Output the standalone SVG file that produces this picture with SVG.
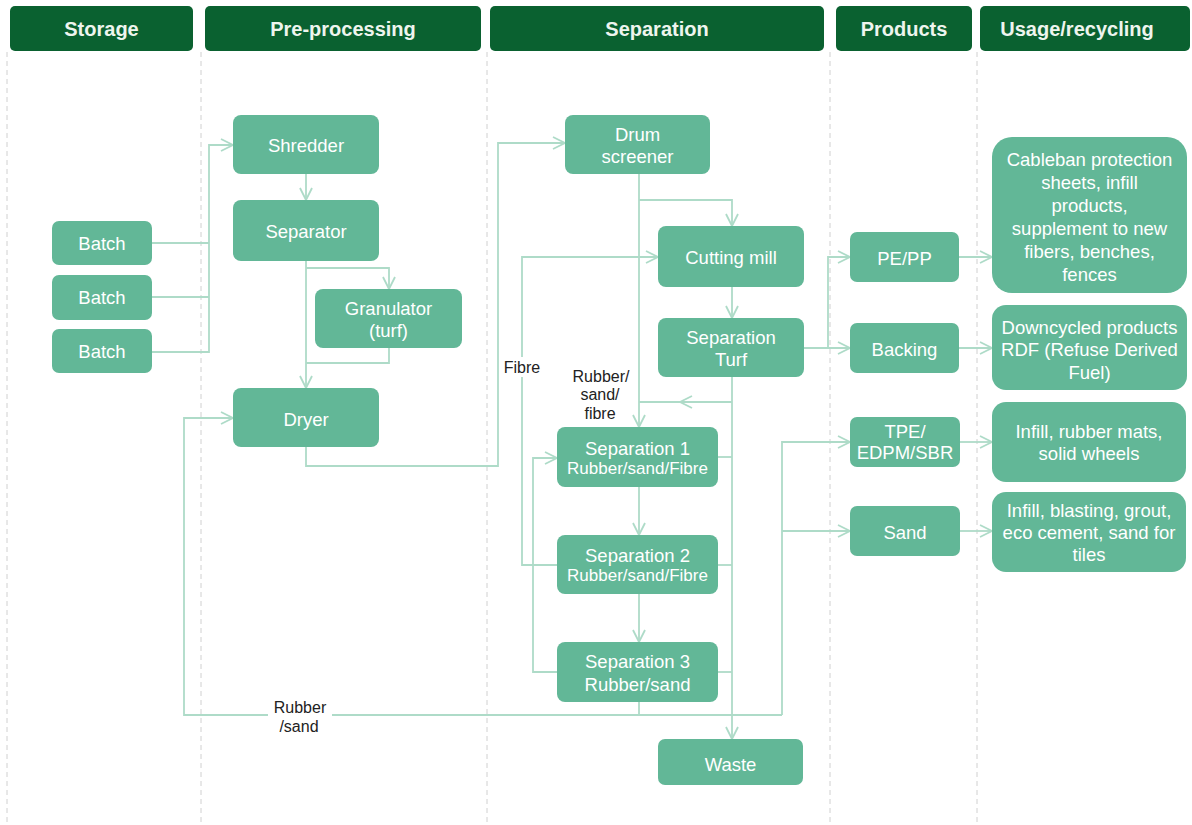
<svg xmlns="http://www.w3.org/2000/svg" width="1192" height="825" viewBox="0 0 1192 825">
<style>
.hdr{fill:#0a6130}
.ht{fill:#eef5ee;font-family:"Liberation Sans",Arial,sans-serif;font-weight:bold;font-size:20px;text-anchor:middle;dominant-baseline:central}
.n{fill:#62b797}
.t{fill:#ffffff;font-family:"Liberation Sans",Arial,sans-serif;font-size:18.5px;text-anchor:middle;dominant-baseline:central}
.ts{font-size:17px}
.lbl{fill:#222;font-family:"Liberation Sans",Arial,sans-serif;font-size:16px;text-anchor:middle;dominant-baseline:central}
.div{stroke:#d0d0d0;stroke-width:1;stroke-dasharray:5 4;fill:none}
.c{stroke:#aedbc8;stroke-width:1.8;fill:none}
.a{marker-end:url(#arr)}
</style>
<defs>
<marker id="arr" viewBox="0 0 14 14" refX="13" refY="7" markerWidth="14" markerHeight="14" markerUnits="userSpaceOnUse" orient="auto">
<path d="M1,1 L13,7 L1,13" fill="none" stroke="#aedbc8" stroke-width="1.8"/>
</marker>
</defs>
<rect width="1192" height="825" fill="#ffffff"/>
<g id="dividers">
<line class="div" x1="7" y1="52" x2="7" y2="825"/>
<line class="div" x1="201" y1="52" x2="201" y2="825"/>
<line class="div" x1="487" y1="52" x2="487" y2="825"/>
<line class="div" x1="830" y1="52" x2="830" y2="825"/>
<line class="div" x1="977" y1="52" x2="977" y2="825"/>
</g>
<g id="headers">
<rect class="hdr" x="10" y="6" width="183" height="45" rx="5"/>
<text class="ht" x="101.5" y="29">Storage</text>
<rect class="hdr" x="205" y="6" width="276" height="45" rx="5"/>
<text class="ht" x="343" y="29">Pre-processing</text>
<rect class="hdr" x="490" y="6" width="334" height="45" rx="5"/>
<text class="ht" x="657" y="29">Separation</text>
<rect class="hdr" x="836" y="6" width="136" height="45" rx="5"/>
<text class="ht" x="904" y="29">Products</text>
<rect class="hdr" x="980" y="6" width="210" height="45" rx="5"/>
<text class="ht" x="1077" y="29">Usage/recycling</text>
</g>
<g id="connectors">
<polyline class="c" points="152,243 209,243"/>
<polyline class="c" points="152,297 209,297"/>
<polyline class="c a" points="152,352 209,352 209,145 233,145"/>
<polyline class="c a" points="306,174 306,200"/>
<polyline class="c a" points="306,261 306,388"/>
<polyline class="c a" points="306,268 389,268 389,289"/>
<polyline class="c" points="389,348 389,363 306,363"/>
<polyline class="c a" points="306,447 306,466 498,466 498,143 565,143"/>
<polyline class="c a" points="639,174 639,427"/>
<polyline class="c a" points="639,200 732,200 732,226"/>
<polyline class="c a" points="732,287 732,318"/>
<polyline class="c a" points="732,377 732,739"/>
<polyline class="c a" points="732,402 680,402"/>
<polyline class="c" points="680,402 639,402"/>
<polyline class="c" points="718,457 732,457"/>
<polyline class="c" points="718,565 732,565"/>
<polyline class="c" points="718,672 732,672"/>
<polyline class="c a" points="639,487 639,535"/>
<polyline class="c a" points="639,594 639,642"/>
<polyline class="c a" points="557,565 522,565 522,257 658,257"/>
<polyline class="c a" points="557,672 533,672 533,458 557,458"/>
<polyline class="c" points="639,702 639,715"/>
<polyline class="c a" points="782,715 184,715 184,418 233,418"/>
<polyline class="c a" points="782,715 782,442 850,442"/>
<polyline class="c a" points="782,531 850,531"/>
<polyline class="c a" points="804,348 850,348"/>
<polyline class="c a" points="828,348 828,257 850,257"/>
<polyline class="c a" points="959,257 992,257"/>
<polyline class="c a" points="959,348 992,348"/>
<polyline class="c a" points="960,442 992,442"/>
<polyline class="c a" points="960,531 992,531"/>
<rect x="268" y="697" width="64" height="38" fill="#ffffff"/>
<text class="lbl" x="300" y="707">Rubber</text>
<text class="lbl" x="299" y="726">/sand</text>
<rect x="503" y="357" width="38" height="20" fill="#ffffff"/>
<text class="lbl" x="522" y="367">Fibre</text>
<text class="lbl" x="601" y="376">Rubber/</text>
<text class="lbl" x="600" y="394">sand/</text>
<text class="lbl" x="600" y="413">fibre</text>
</g>
<g id="batch1"><rect class="n" x="52" y="221" width="100" height="44" rx="7"/><text class="t" x="102" y="243">Batch</text></g>
<g id="batch2"><rect class="n" x="52" y="275" width="100" height="45" rx="7"/><text class="t" x="102" y="297.5">Batch</text></g>
<g id="batch3"><rect class="n" x="52" y="329" width="100" height="44" rx="7"/><text class="t" x="102" y="351">Batch</text></g>
<g id="shredder"><rect class="n" x="233" y="115" width="146" height="59" rx="8"/><text class="t" x="306" y="145">Shredder</text></g>
<g id="separator"><rect class="n" x="233" y="200" width="146" height="61" rx="8"/><text class="t" x="306" y="231">Separator</text></g>
<g id="granulator"><rect class="n" x="315" y="289" width="147" height="59" rx="8"/><text class="t" x="388.5" y="308">Granulator</text><text class="t" x="388.5" y="330">(turf)</text></g>
<g id="dryer"><rect class="n" x="233" y="388" width="146" height="59" rx="8"/><text class="t" x="306" y="419">Dryer</text></g>
<g id="drum"><rect class="n" x="565" y="115" width="145" height="59" rx="8"/><text class="t" x="637.5" y="134">Drum</text><text class="t" x="637.5" y="156">screener</text></g>
<g id="cutting"><rect class="n" x="658" y="226" width="146" height="61" rx="8"/><text class="t" x="731" y="257">Cutting mill</text></g>
<g id="septurf"><rect class="n" x="658" y="318" width="146" height="59" rx="8"/><text class="t" x="731" y="337">Separation</text><text class="t" x="731" y="359">Turf</text></g>
<g id="sep1"><rect class="n" x="557" y="427" width="161" height="60" rx="8"/><text class="t" x="637.5" y="448">Separation 1</text><text class="t ts" x="637.5" y="468">Rubber/sand/Fibre</text></g>
<g id="sep2"><rect class="n" x="557" y="535" width="161" height="59" rx="8"/><text class="t" x="637.5" y="555">Separation 2</text><text class="t ts" x="637.5" y="575">Rubber/sand/Fibre</text></g>
<g id="sep3"><rect class="n" x="557" y="642" width="161" height="60" rx="8"/><text class="t" x="637.5" y="661">Separation 3</text><text class="t" x="637.5" y="684">Rubber/sand</text></g>
<g id="waste"><rect class="n" x="658" y="739" width="145" height="46" rx="7"/><text class="t" x="730.5" y="764">Waste</text></g>
<g id="pepp"><rect class="n" x="850" y="232" width="109" height="50" rx="7"/><text class="t" x="904.5" y="258">PE/PP</text></g>
<g id="backing"><rect class="n" x="850" y="323" width="109" height="50" rx="7"/><text class="t" x="904.5" y="349">Backing</text></g>
<g id="tpe"><rect class="n" x="850" y="417" width="110" height="50" rx="7"/><text class="t" x="905" y="431">TPE/</text><text class="t" x="905" y="452">EDPM/SBR</text></g>
<g id="sand"><rect class="n" x="850" y="506" width="110" height="50" rx="7"/><text class="t" x="905" y="532">Sand</text></g>
<g id="use1"><rect class="n" x="992" y="137" width="195" height="156" rx="20"/>
<text class="t" x="1089.5" y="159">Cableban protection</text><text class="t" x="1089.5" y="182">sheets, infill</text><text class="t" x="1089.5" y="205">products,</text><text class="t" x="1089.5" y="228">supplement to new</text><text class="t" x="1089.5" y="251">fibers, benches,</text><text class="t" x="1089.5" y="274">fences</text></g>
<g id="use2"><rect class="n" x="992" y="305" width="195" height="85" rx="14"/>
<text class="t" x="1089.5" y="327">Downcycled products</text><text class="t" x="1089.5" y="349">RDF (Refuse Derived</text><text class="t" x="1089.5" y="372">Fuel)</text></g>
<g id="use3"><rect class="n" x="992" y="402" width="194" height="80" rx="14"/>
<text class="t" x="1089" y="431">Infill, rubber mats,</text><text class="t" x="1089" y="453">solid wheels</text></g>
<g id="use4"><rect class="n" x="992" y="492" width="194" height="80" rx="14"/>
<text class="t" x="1089" y="510">Infill, blasting, grout,</text><text class="t" x="1089" y="532">eco cement, sand for</text><text class="t" x="1089" y="554">tiles</text></g>
</svg>
